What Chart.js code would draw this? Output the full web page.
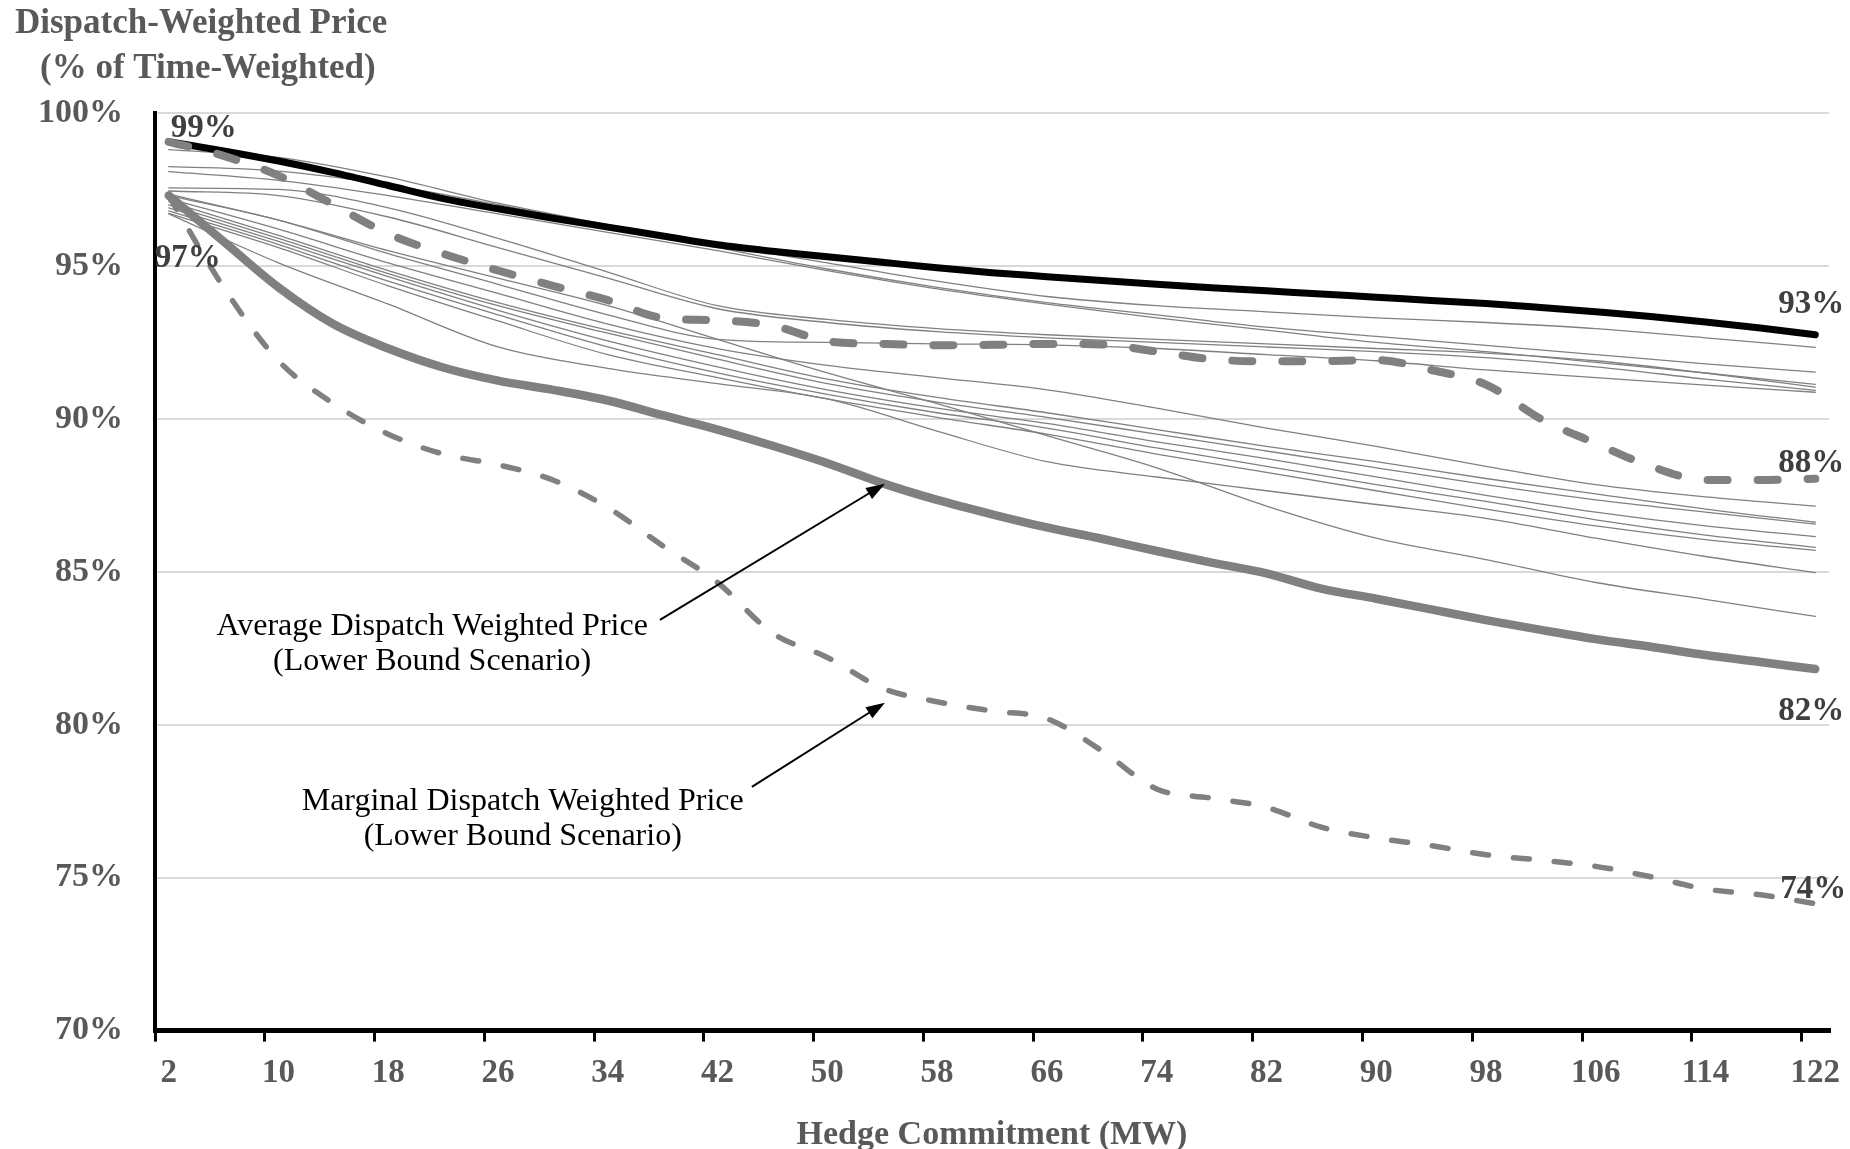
<!DOCTYPE html>
<html>
<head>
<meta charset="utf-8">
<title>Dispatch-Weighted Price vs Hedge Commitment</title>
<script src="https://cdn.jsdelivr.net/npm/chart.js@4.4.1/dist/chart.umd.min.js"></script>
<style>
  html, body { margin: 0; padding: 0; background: #ffffff; }
  #wrap { width: 1850px; height: 1149px; position: relative; }
</style>
</head>
<body>
<div id="wrap"><canvas id="priceChart"></canvas></div>
<script>
// Hedge commitment (MW) where values were read
const mwMain = [2, 6, 10, 14, 18, 22, 26, 30, 34, 38, 42, 46, 50, 54, 58, 62,
                66, 70, 74, 78, 82, 86, 90, 94, 98, 102, 106, 110, 114, 118, 122];
const mwScenario = [2, 10, 18, 26, 34, 42, 50, 58, 66, 74, 82, 90, 98, 106, 114, 122];

// Axis ticks
const xTickLabels = [2, 10, 18, 26, 34, 42, 50, 58, 66, 74, 82, 90, 98, 106, 114, 122];
const xTickMarks = [1, 9, 17, 25, 33, 41, 49, 57, 65, 73, 81, 89, 97, 105, 113, 121];
const yTicks = [70, 75, 80, 85, 90, 95, 100];

// Main series (% of time-weighted price)
const avgUpper = [99.06, 98.76, 98.43, 98.05, 97.63, 97.2, 96.87, 96.56, 96.27, 95.98, 95.69,
                  95.48, 95.3, 95.12, 94.94, 94.78, 94.65, 94.52, 94.4, 94.29, 94.19, 94.08,
                  93.98, 93.87, 93.77, 93.64, 93.5, 93.35, 93.17, 92.97, 92.75];
const margUpper = [99.06, 98.6, 97.95, 97.0, 96.05, 95.4, 94.85, 94.35, 93.88, 93.3, 93.22,
                   93.05, 92.54, 92.45, 92.41, 92.42, 92.45, 92.43, 92.2, 91.95, 91.88, 91.89,
                   91.92, 91.6, 91.12, 90.0, 89.2, 88.45, 88.0, 88.0, 88.04];
const avgLower = [97.3, 95.8, 94.3, 93.1, 92.3, 91.68, 91.25, 90.95, 90.6, 90.12, 89.65,
                  89.12, 88.55, 87.9, 87.35, 86.88, 86.45, 86.08, 85.68, 85.3, 84.95, 84.45,
                  84.12, 83.77, 83.42, 83.1, 82.8, 82.55, 82.28, 82.05, 81.82];
const margLower = [97.3, 94.3, 91.9, 90.5, 89.5, 88.85, 88.5, 88.0, 87.1, 85.85, 84.65,
                   83.0, 82.2, 81.2, 80.75, 80.45, 80.2, 79.15, 77.9, 77.6, 77.3, 76.65,
                   76.3, 76.05, 75.75, 75.57, 75.37, 75.03, 74.63, 74.44, 74.15];

// Individual scenario lines (thin grey)
const scenario1  = [98.8, 98.55, 97.9, 97.05, 96.35, 95.7, 95.1, 94.5, 94.0, 93.7, 93.5, 93.3, 93.15, 92.95, 92.65, 92.34];
const scenario2  = [98.25, 98.1, 97.65, 97.0, 96.3, 95.6, 94.9, 94.3, 93.8, 93.4, 93.0, 92.7, 92.4, 92.1, 91.8, 91.53];
const scenario3  = [98.08, 97.8, 97.3, 96.7, 96.1, 95.5, 94.85, 94.25, 93.75, 93.3, 92.9, 92.5, 92.2, 91.85, 91.5, 91.13];
const scenario4  = [97.55, 97.5, 96.9, 95.9, 94.8, 93.7, 93.25, 92.95, 92.75, 92.6, 92.45, 92.3, 92.15, 91.9, 91.5, 91.04];
const scenario5  = [97.45, 97.3, 96.6, 95.6, 94.6, 93.6, 93.15, 92.85, 92.65, 92.5, 92.35, 92.2, 92.0, 91.7, 91.3, 90.93];
const scenario6  = [97.3, 96.5, 95.4, 94.4, 93.4, 92.6, 92.5, 92.45, 92.42, 92.3, 92.1, 91.9, 91.6, 91.35, 91.1, 90.87];
const scenario7  = [97.2, 96.2, 95.1, 94.1, 93.1, 92.3, 91.75, 91.35, 90.95, 90.35, 89.7, 89.1, 88.45, 87.85, 87.45, 87.15];
const scenario8  = [97.1, 96.0, 94.85, 93.8, 92.9, 92.1, 91.3, 90.7, 90.2, 89.65, 89.1, 88.6, 88.05, 87.55, 87.05, 86.62];
const scenario9  = [97.0, 95.9, 94.75, 93.7, 92.8, 91.95, 91.15, 90.55, 90.05, 89.5, 88.95, 88.4, 87.85, 87.35, 86.95, 86.56];
const scenario10 = [96.9, 95.8, 94.65, 93.55, 92.55, 91.7, 90.95, 90.35, 89.85, 89.25, 88.7, 88.1, 87.5, 86.95, 86.5, 86.15];
const scenario11 = [96.8, 95.7, 94.5, 93.4, 92.35, 91.5, 90.8, 90.2, 89.7, 89.05, 88.45, 87.85, 87.3, 86.7, 86.2, 85.8];
const scenario12 = [96.72, 95.6, 94.35, 93.2, 92.1, 91.35, 90.65, 90.05, 89.5, 88.85, 88.25, 87.65, 87.05, 86.5, 86.05, 85.7];
const scenario13 = [96.7, 95.1, 93.75, 92.35, 91.65, 91.15, 90.65, 89.6, 88.6, 88.1, 87.65, 87.2, 86.75, 86.1, 85.5, 84.97];
const scenario14 = [97.35, 96.5, 95.5, 94.6, 93.7, 92.6, 91.5, 90.5, 89.45, 88.4, 87.15, 86.1, 85.4, 84.65, 84.1, 83.54];

const scenarioSeries = [scenario1, scenario2, scenario3, scenario4, scenario5, scenario6, scenario7,
                        scenario8, scenario9, scenario10, scenario11, scenario12, scenario13, scenario14];

const GREY = '#808080';
const TEXT_GREY = '#595959';
const LABEL_DARK = '#3f3f3f';
const FONT = '"Liberation Serif", "Times New Roman", serif';

Chart.defaults.font.family = FONT;

// Build {x, y} points for a series
function points(xs, ys) {
    return ys.map((y, i) => ({ x: xs[i], y: y }));
}

function lineDataset(xs, ys, color, width, dash) {
    return {
        data: points(xs, ys),
        borderColor: color,
        borderWidth: width,
        borderDash: dash || [],
        borderCapStyle: 'round',
        borderJoinStyle: 'round',
        pointRadius: 0,
        fill: false,
        cubicInterpolationMode: 'monotone'
    };
}

// End-point percentage labels, anchored to a series point with pixel offsets
const endLabels = [
    { xs: mwMain, ys: avgUpper, i: 0, dx: 2, dy: -5, align: 'left' },
    { xs: mwMain, ys: avgLower, i: 0, dx: 19, dy: 71, align: 'center' },
    { xs: mwMain, ys: avgUpper, i: 30, dx: -4, dy: -22, align: 'center' },
    { xs: mwMain, ys: margUpper, i: 30, dx: -4, dy: -7, align: 'center' },
    { xs: mwMain, ys: avgLower, i: 30, dx: -4, dy: 51, align: 'center' },
    { xs: mwMain, ys: margLower, i: 30, dx: -2, dy: -6, align: 'center' }
];

// Callouts, placed in data units (MW, %)
const callouts = [
    { lines: ['Average Dispatch Weighted Price', '(Lower Bound Scenario)'],
      textAt: [21.2, 82.95], from: [37.8, 83.43], to: [54.2, 87.88] },
    { lines: ['Marginal Dispatch Weighted Price', '(Lower Bound Scenario)'],
      textAt: [27.8, 77.2], from: [44.5, 77.97], to: [54.2, 80.72] }
];

function drawArrow(ctx, x1, y1, x2, y2) {
    const ang = Math.atan2(y2 - y1, x2 - x1);
    const len = 19, half = 6.5;
    const bx = x2 - len * Math.cos(ang);
    const by = y2 - len * Math.sin(ang);
    ctx.beginPath();
    ctx.moveTo(x1, y1);
    ctx.lineTo(bx + 3 * Math.cos(ang), by + 3 * Math.sin(ang));
    ctx.stroke();
    ctx.beginPath();
    ctx.moveTo(x2, y2);
    ctx.lineTo(bx + half * Math.sin(ang), by - half * Math.cos(ang));
    ctx.lineTo(bx - half * Math.sin(ang), by + half * Math.cos(ang));
    ctx.closePath();
    ctx.fill();
}

const overlayPlugin = {
    id: 'overlay',
    afterDraw(chart) {
        const ctx = chart.ctx;
        const xs = chart.scales.x;
        const ys = chart.scales.y;
        ctx.save();

        // Axis title at top-left
        ctx.fillStyle = TEXT_GREY;
        ctx.font = 'bold 35px ' + FONT;
        ctx.textAlign = 'left';
        ctx.textBaseline = 'alphabetic';
        ctx.fillText('Dispatch-Weighted Price', 15, 33);
        ctx.fillText('(% of Time-Weighted)', 40, 78);

        // End labels
        ctx.fillStyle = LABEL_DARK;
        ctx.font = 'bold 33px ' + FONT;
        endLabels.forEach(l => {
            const v = l.ys[l.i];
            const px = xs.getPixelForValue(l.xs[l.i]);
            const py = ys.getPixelForValue(v);
            ctx.textAlign = l.align;
            ctx.fillText(Math.round(v) + '%', px + l.dx, py + l.dy);
        });

        // Callouts
        ctx.fillStyle = '#000000';
        ctx.strokeStyle = '#000000';
        ctx.lineWidth = 2;
        ctx.font = '32px ' + FONT;
        ctx.textAlign = 'center';
        callouts.forEach(c => {
            const tx = xs.getPixelForValue(c.textAt[0]);
            const ty = ys.getPixelForValue(c.textAt[1]);
            c.lines.forEach((t, k) => ctx.fillText(t, tx, ty + k * 35));
            drawArrow(ctx,
                xs.getPixelForValue(c.from[0]), ys.getPixelForValue(c.from[1]),
                xs.getPixelForValue(c.to[0]), ys.getPixelForValue(c.to[1]));
        });

        ctx.restore();
    }
};

const datasets = [
    lineDataset(mwMain, margUpper, GREY, 8, [20, 30]),
    lineDataset(mwMain, avgUpper, '#000000', 7),
    lineDataset(mwMain, margLower, GREY, 5.5, [16, 25]),
    lineDataset(mwMain, avgLower, GREY, 8.5)
];
scenarioSeries.forEach(s => datasets.push(lineDataset(mwScenario, s, GREY, 1.3)));

new Chart(document.getElementById('priceChart'), {
    type: 'line',
    data: { datasets: datasets },
    options: {
        responsive: true,
        maintainAspectRatio: false,
        animation: false,
        events: [],
        layout: { padding: { left: 40, top: 113, right: 21, bottom: -7 } },
        plugins: {
            legend: { display: false },
            tooltip: { enabled: false },
            title: { display: false }
        },
        scales: {
            x: {
                type: 'linear',
                position: 'bottom',
                min: 1,
                max: 123,
                weight: 1,
                afterBuildTicks: s => { s.ticks = xTickLabels.map(v => ({ value: v })); },
                grid: { display: false },
                border: { display: false },
                ticks: {
                    color: TEXT_GREY,
                    font: { size: 33, weight: 'bold' },
                    padding: 4,
                    maxRotation: 0,
                    autoSkip: false
                },
                title: {
                    display: true,
                    text: 'Hedge Commitment (MW)',
                    color: TEXT_GREY,
                    font: { size: 34, weight: 'bold' },
                    padding: { top: 18, bottom: 0 }
                }
            },
            xMarks: {
                type: 'linear',
                position: 'bottom',
                min: 1,
                max: 123,
                weight: 0,
                afterBuildTicks: s => { s.ticks = xTickMarks.map(v => ({ value: v })); },
                grid: { drawOnChartArea: false, drawTicks: true, tickLength: 11, color: '#000000', lineWidth: 3 },
                border: { display: true, color: '#000000', width: 5 },
                ticks: { display: false }
            },
            y: {
                type: 'linear',
                min: 70,
                max: 100,
                afterBuildTicks: s => { s.ticks = yTicks.map(v => ({ value: v })); },
                afterFit: s => { s.width = 115; },
                grid: { color: '#d9d9d9', lineWidth: 2, drawTicks: false },
                border: { color: '#000000', width: 4 },
                ticks: {
                    callback: v => v + '%',
                    color: TEXT_GREY,
                    font: { size: 34, weight: 'bold' },
                    padding: 32
                }
            }
        }
    },
    plugins: [overlayPlugin]
});
</script>
</body>
</html>
